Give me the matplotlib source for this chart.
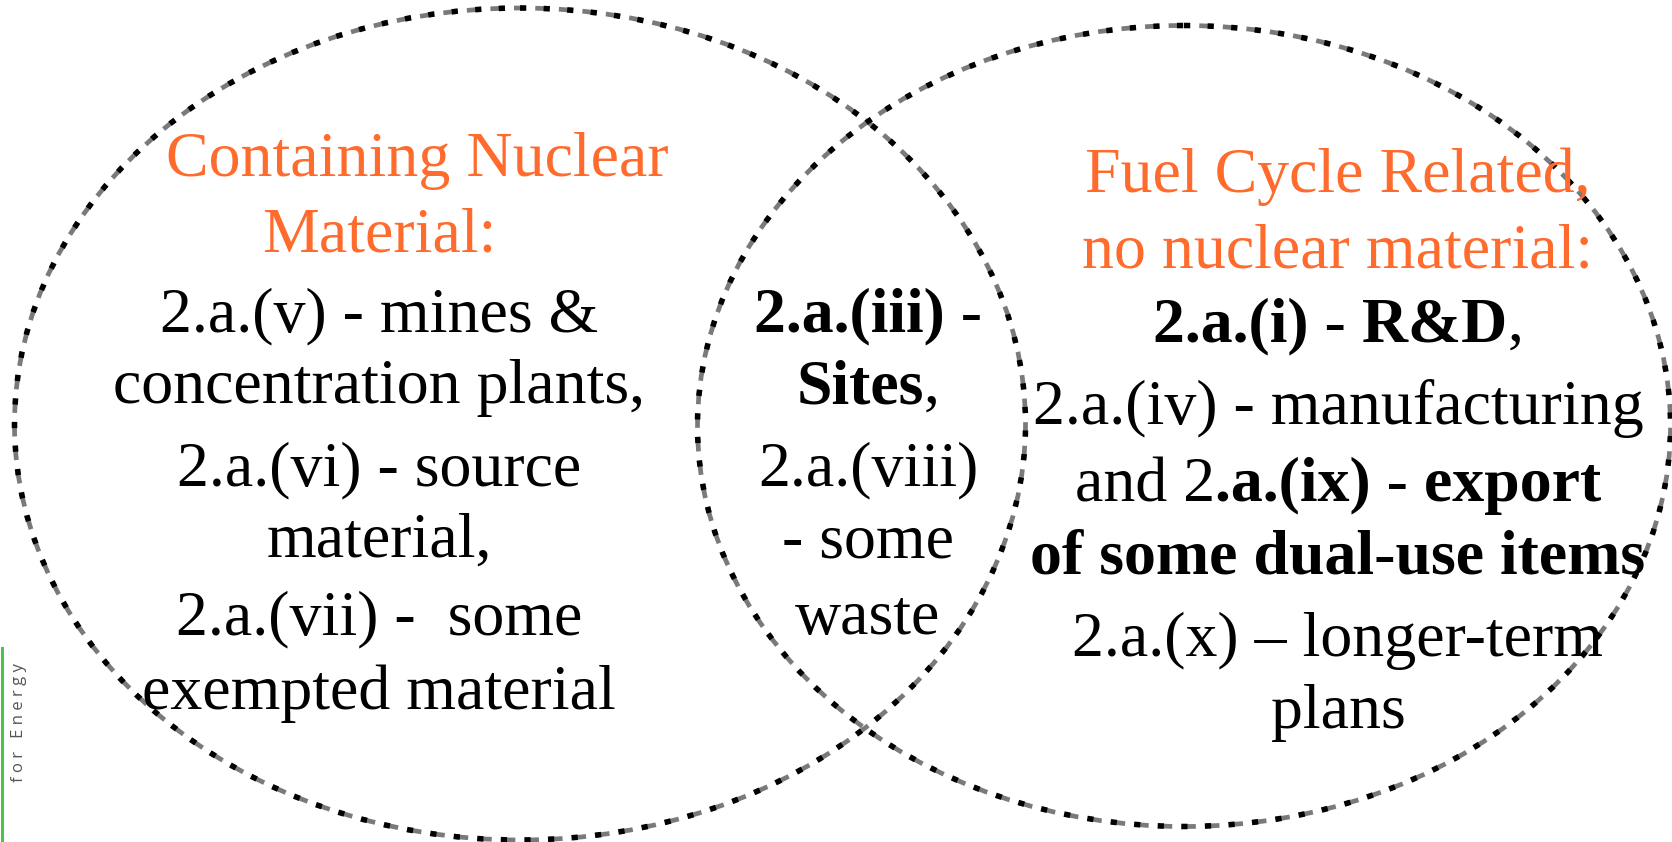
import matplotlib
matplotlib.use("Agg")
import matplotlib.pyplot as plt
from matplotlib.patches import Ellipse

plt.rcParams['lines.scale_dashes'] = False

# text of the diagram, one entry per line; segments are (text, weight)
left_heading = ["Containing Nuclear", "Material:"]
left_items = [
    [("2.a.(v) - mines &", "normal")],
    [("concentration plants,", "normal")],
    [("2.a.(vi) - source", "normal")],
    [("material,", "normal")],
    [("2.a.(vii) -  some", "normal")],
    [("exempted material", "normal")],
]
middle_items = [
    [("2.a.(iii) -", "bold")],
    [("Sites", "bold"), (",", "normal")],
    [("2.a.(viii)", "normal")],
    [("- some", "normal")],
    [("waste", "normal")],
]
right_heading = ["Fuel Cycle Related,", "no nuclear material:"]
right_items = [
    [("2.a.(i) - R&D", "bold"), (",", "normal")],
    [("2.a.(iv) - manufacturing", "normal")],
    [("and 2", "normal"), (".a.(ix) - export", "bold")],
    [("of some dual-use items", "bold")],
    [("2.a.(x) \u2013 longer-term", "normal")],
    [("plans", "normal")],
]
side_label = "f o r   E n e r g y"

# layout (pixel space of the 1672x842 canvas)
W, H = 1672, 842
ellipses = [(520, 424, 1011, 832), (1184, 426, 973, 801)]
left_x, mid_x, right_x = 379, 868, 1338
left_heading_y = [176, 251]
left_heading_dx = [38, 0]
left_items_y = [331, 403, 485, 557, 634, 709]
middle_items_y = [331, 403, 485, 557, 634]
right_heading_y = [192, 267]
right_items_y = [341, 424, 501, 573, 656, 728]

ORANGE = '#ff6a2d'
FS = 46
SERIF = 'Liberation Serif'

fig = plt.figure(figsize=(W / 100, H / 100), dpi=100)
ax = fig.add_axes([0, 0, 1, 1])
ax.set_xlim(0, W)
ax.set_ylim(H, 0)
ax.axis('off')

# dashed outlines: gray segments with short black dashes between them
for cx, cy, w, h in ellipses:
    ax.add_patch(Ellipse((cx, cy), w, h, fill=False, edgecolor='#7a7a7a', lw=3.4,
                         linestyle=(6.0, (10.0, 7.0))))
    ax.add_patch(Ellipse((cx, cy), w, h, fill=False, edgecolor='black', lw=4.0,
                         linestyle=(0, (4.5, 12.5))))

renderer = fig.canvas.get_renderer()


def draw_line(x, y, segs, color='black'):
    texts = []
    for s, wt in segs:
        t = ax.text(0, y, s, fontsize=FS, fontweight=wt, color=color,
                    family=SERIF, ha='left', va='baseline')
        texts.append(t)
    widths = [t.get_window_extent(renderer).width for t in texts]
    start = x - sum(widths) / 2
    for t, wd in zip(texts, widths):
        t.set_x(start)
        start += wd


for s, y, dx in zip(left_heading, left_heading_y, left_heading_dx):
    draw_line(left_x + dx, y, [(s, 'normal')], ORANGE)
for segs, y in zip(left_items, left_items_y):
    draw_line(left_x, y, segs)
for segs, y in zip(middle_items, middle_items_y):
    draw_line(mid_x, y, segs)
for s, y in zip(right_heading, right_heading_y):
    draw_line(right_x, y, [(s, 'normal')], ORANGE)
for segs, y in zip(right_items, right_items_y):
    draw_line(right_x, y, segs)

# left margin decoration
ax.plot([1.5, 1.5], [648, H], color='#4cc24c', lw=2.2)
ax.text(19, 722, side_label, rotation=90, fontsize=12, color='#555555',
        family='Open Sans', ha='center', va='center')

fig.savefig('out.png', dpi=100)
